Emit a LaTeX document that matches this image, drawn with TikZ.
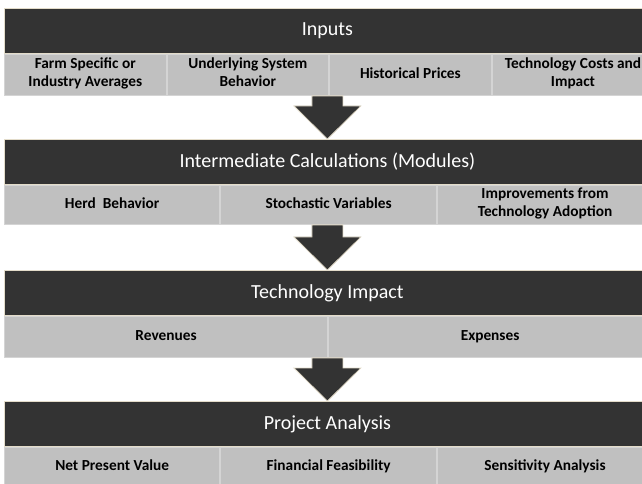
\documentclass[tikz,border=0pt]{standalone}
\usepackage{fontspec}
\setmainfont{Carlito}
\usetikzlibrary{calc}
\definecolor{banddark}{HTML}{333333}
\definecolor{cellgrey}{HTML}{C0C0C0}
\definecolor{celledge}{HTML}{D4D4D4}
\definecolor{edgetan}{HTML}{E3DCCA}
%block arrow from top coordinate down to tip coordinate
\newcommand{\flowarrow}[2]{%
  \draw[blockarrow] ($(#1)+(-15.5,0)$) -- ($(#1)+(15.5,0)$) -- ($(#2)+(15.5,-33)$)
    -- ($(#2)+(33.5,-33)$) -- (#2) -- ($(#2)+(-33.5,-33)$) -- ($(#2)+(-15.5,-33)$) -- cycle;}
\begin{document}
\begin{tikzpicture}[x=0.75pt, y=-0.75pt,
  header/.style={anchor=north west, fill=banddark, draw=edgetan, line width=0.6pt,
    text=white, font=\fontsize{15}{17}\selectfont, minimum width=484.5pt,
    minimum height=33.75pt, inner sep=0pt},
  cell/.style={anchor=north west, fill=cellgrey, draw=celledge, line width=0.8pt,
    font=\fontsize{11.5}{13.5}\selectfont\bfseries, align=center, inner sep=0pt,
    execute at begin node=\strut, execute at end node=\strut},
  blockarrow/.style={fill=banddark, draw=edgetan, line width=0.6pt, line join=miter}]
\useasboundingbox (0,0) rectangle (642,484);
%inputs
\node[header] (inputs) at (4,8) {Inputs};
\node[cell, minimum width=121.125pt, minimum height=30.75pt] (farm) at (inputs.south west) {Farm Specific or\\Industry Averages};
\node[cell, minimum width=121.125pt, minimum height=30.75pt] (system) at (farm.north east) {Underlying System\\Behavior};
\node[cell, minimum width=121.125pt, minimum height=30.75pt] (prices) at (system.north east) {Historical Prices};
\node[cell, minimum width=121.125pt, minimum height=30.75pt] (costs) at (prices.north east) {Technology Costs and\\Impact};
%intermediate calculations
\node[header] (calcs) at (4,139) {Intermediate Calculations (Modules)};
\node[cell, minimum width=161.5pt, minimum height=29.25pt] (herd) at (calcs.south west) {Herd~~Behavior};
\node[cell, minimum width=161.5pt, minimum height=29.25pt] (stoch) at (herd.north east) {Stochastic Variables};
\node[cell, minimum width=161.5pt, minimum height=29.25pt] (improve) at (stoch.north east) {Improvements from\\Technology Adoption};
%technology impact
\node[header] (impact) at (4,270) {Technology Impact};
\node[cell, minimum width=242.25pt, minimum height=30.75pt] (revenues) at (impact.south west) {Revenues};
\node[cell, minimum width=242.25pt, minimum height=30.75pt] (expenses) at (revenues.north east) {Expenses};
%project analysis
\node[header] (project) at (4,401) {Project Analysis};
\node[cell, minimum width=161.5pt, minimum height=29.25pt] (npv) at (project.south west) {Net Present Value};
\node[cell, minimum width=161.5pt, minimum height=29.25pt] (feas) at (npv.north east) {Financial Feasibility};
\node[cell, minimum width=161.5pt, minimum height=29.25pt] (sens) at (feas.north east) {Sensitivity Analysis};
%arrows between the bands
\coordinate (top1) at (inputs |- farm.south);
\coordinate (top2) at (calcs |- herd.south);
\coordinate (top3) at (impact |- revenues.south);
\flowarrow{top1}{calcs.north}
\flowarrow{top2}{impact.north}
\flowarrow{top3}{project.north}
\end{tikzpicture}
\end{document}
